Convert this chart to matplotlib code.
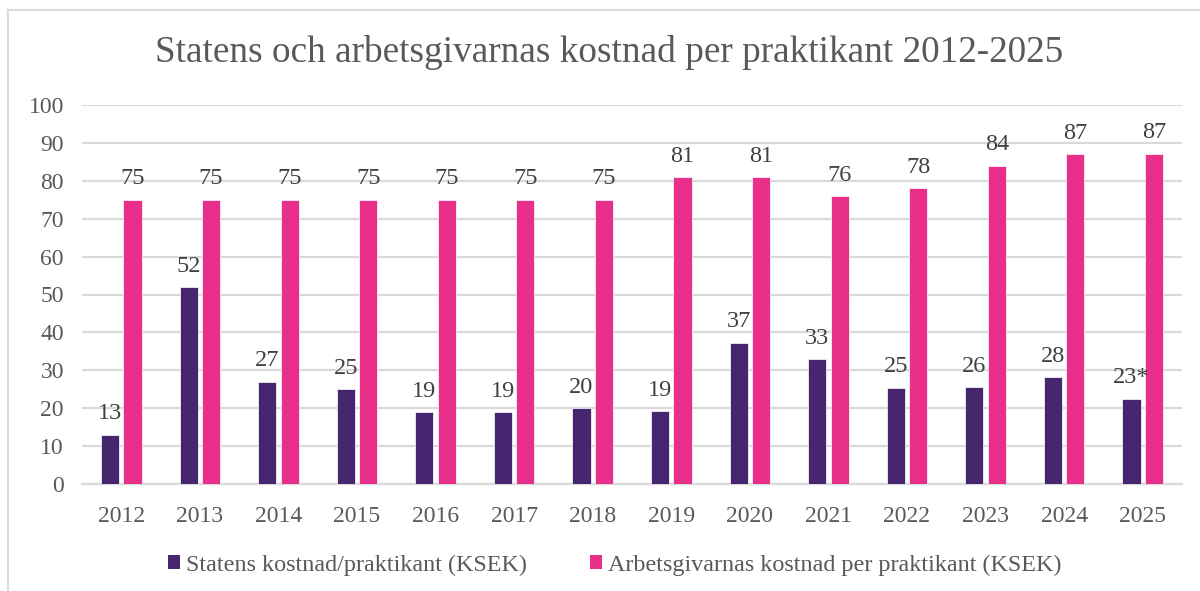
import matplotlib
matplotlib.use("Agg")
import matplotlib.pyplot as plt
from matplotlib.lines import Line2D
from matplotlib.patches import Patch
import numpy as np

years = ["2012", "2013", "2014", "2015", "2016", "2017", "2018",
         "2019", "2020", "2021", "2022", "2023", "2024", "2025"]
staten = [13, 52, 27, 25, 19, 19, 20, 19.2, 37.3, 33, 25.4, 25.5, 28.2, 22.5]
staten_labels = ["13", "52", "27", "25", "19", "19", "20", "19", "37", "33",
                 "25", "26", "28", "23*"]
arbetsgivare = [75, 75, 75, 75, 75, 75, 75, 81, 81, 76, 78, 84, 87, 87.2]
arbetsgivare_labels = ["75", "75", "75", "75", "75", "75", "75", "81", "81",
                       "76", "78", "84", "87", "87"]
series_names = ["Statens kostnad/praktikant (KSEK)",
                "Arbetsgivarnas kostnad per praktikant (KSEK)"]
title = "Statens och arbetsgivarnas kostnad per praktikant 2012-2025"
yticks = [0, 10, 20, 30, 40, 50, 60, 70, 80, 90, 100]

PURPLE = "#46266F"
PINK = "#E8308A"
TEXT = "#595959"
GRID = "#D9D9D9"

plt.rcParams["font.family"] = ["Liberation Serif", "DejaVu Serif"]

fig = plt.figure(figsize=(12, 5.91), dpi=100)
ax = fig.add_axes([82/1200, 1-484/591, 1100/1200, (484-105)/591])

x = np.arange(len(years))
w = 0.23
off = 0.143
b1 = ax.bar(x - off, staten, w, color=PURPLE, edgecolor="white", linewidth=0.5, zorder=3)
b2 = ax.bar(x + off, arbetsgivare, w, color=PINK, edgecolor="white", linewidth=0.5, zorder=3)

for rect, lab in zip(b1, staten_labels):
    ax.annotate(lab, (rect.get_x() + rect.get_width()/2, rect.get_height()),
                xytext=(0, 7.5), textcoords="offset points", ha="center", va="bottom",
                fontsize=17.5, color="#404040")
for rect, lab in zip(b2, arbetsgivare_labels):
    ax.annotate(lab, (rect.get_x() + rect.get_width()/2, rect.get_height()),
                xytext=(0, 7.5), textcoords="offset points", ha="center", va="bottom",
                fontsize=17.5, color="#404040")

ax.set_xlim(-0.5, len(years) - 0.5)
ax.set_ylim(0, 100)
ax.set_yticks(yticks)
ax.set_xticks(x)
ax.set_xticklabels(years)
ax.tick_params(axis="both", length=0, labelsize=17, labelcolor=TEXT)
ax.tick_params(axis="y", pad=13)
ax.tick_params(axis="x", pad=16)
ax.yaxis.grid(True, color=GRID, linewidth=1.6, zorder=0)
ax.set_axisbelow(True)
for s in ["top", "right", "left"]:
    ax.spines[s].set_visible(False)
ax.spines["bottom"].set_color(GRID)
ax.spines["bottom"].set_linewidth(1.6)

fig.text(0.508, 1-53/591, title, ha="center", va="center", fontsize=26.8, color=TEXT)

handles = [Patch(facecolor=PURPLE, edgecolor="none"), Patch(facecolor=PINK, edgecolor="none")]
fig.legend(handles, series_names, loc="center", bbox_to_anchor=(0.512, 1-565/591),
           ncol=2, frameon=False, fontsize=17.4, labelcolor=TEXT,
           handlelength=0.5, handleheight=0.5, handletextpad=0.25, columnspacing=2.6)

# outer chart frame
fig.add_artist(Line2D([8/1200, 1.0], [1-10/591, 1-10/591], color=GRID, linewidth=1.5))
fig.add_artist(Line2D([8/1200, 8/1200], [0, 1-10/591], color=GRID, linewidth=1.5))

fig.savefig("out.png", dpi=100)
